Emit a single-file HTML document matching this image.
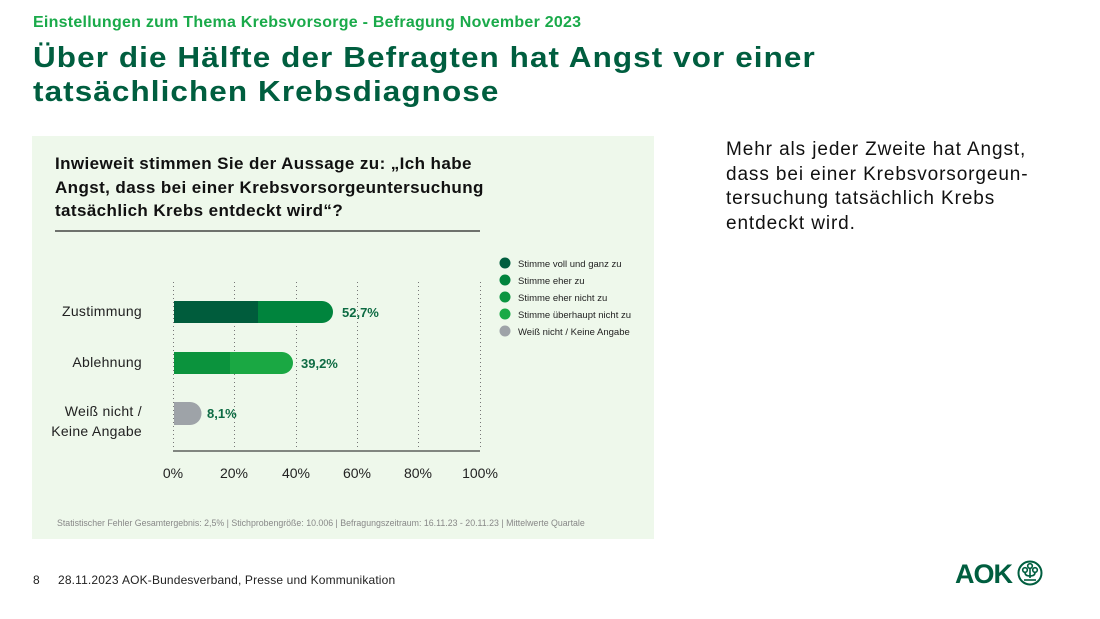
<!DOCTYPE html>
<html>
<head>
<meta charset="utf-8">
<style>
  html,body{margin:0;padding:0;background:#fff;}
  body{width:1100px;height:619px;position:relative;overflow:hidden;font-family:"Liberation Sans",sans-serif;}
  .abs{position:absolute;white-space:nowrap;}
  .sub{left:33px;top:14px;font-size:16px;font-weight:bold;color:#1aaa4a;letter-spacing:0.25px;}
  .title{left:33px;top:41px;font-size:29px;font-weight:bold;color:#005e3f;line-height:34px;letter-spacing:1px;transform:scaleX(1.085);transform-origin:0 0;}
  .panel{left:32px;top:136px;width:622px;height:403px;background:#eef8eb;}
  .q{left:55px;top:152px;font-size:17px;font-weight:bold;color:#111;line-height:23.5px;letter-spacing:0.4px;}
  .right{left:726px;top:138px;font-size:19px;color:#111;line-height:24.5px;letter-spacing:0.9px;}
  .foot{top:573px;font-size:12px;color:#222;letter-spacing:0.15px;}
</style>
</head>
<body>
<div class="abs sub">Einstellungen zum Thema Krebsvorsorge - Befragung November 2023</div>
<div class="abs title">Über die Hälfte der Befragten hat Angst vor einer<br>tatsächlichen Krebsdiagnose</div>

<div class="abs panel"></div>
<div class="abs q">Inwieweit stimmen Sie der Aussage zu: „Ich habe<br>Angst, dass bei einer Krebsvorsorgeuntersuchung<br>tatsächlich Krebs entdeckt wird“?</div>

<svg class="abs" style="left:0;top:0" width="1100" height="619" xmlns="http://www.w3.org/2000/svg">
  <line x1="55" y1="231" x2="480" y2="231" stroke="#222" stroke-width="1.2"/>
  <g stroke="#777" stroke-width="1" stroke-dasharray="1 3">
    <line x1="173.5" y1="282" x2="173.5" y2="450"/>
    <line x1="234.5" y1="282" x2="234.5" y2="450"/>
    <line x1="296.5" y1="282" x2="296.5" y2="450"/>
    <line x1="357.5" y1="282" x2="357.5" y2="450"/>
    <line x1="418.5" y1="282" x2="418.5" y2="450"/>
    <line x1="480.5" y1="282" x2="480.5" y2="450"/>
  </g>
  <line x1="173" y1="451" x2="480" y2="451" stroke="#222" stroke-width="1.2" opacity="0.85"/>
  <!-- bars -->
  <path d="M174 301 H322 A11 11 0 0 1 322 323 H174 Z" fill="#00843d"/>
  <rect x="174" y="301" width="84" height="22" fill="#005c3c"/>
  <path d="M174 352 H282 A11 11 0 0 1 282 374 H174 Z" fill="#1aa843"/>
  <rect x="174" y="352" width="56" height="22" fill="#0b933d"/>
  <path d="M174 402 H190 A11.5 11.5 0 0 1 190 425 H174 Z" fill="#9ea3a8"/>
  <g font-family="Liberation Sans, sans-serif" font-size="13" font-weight="bold" fill="#0d6b43">
    <text x="342" y="317">52,7%</text>
    <text x="301" y="368">39,2%</text>
    <text x="207" y="418">8,1%</text>
  </g>
  <g font-family="Liberation Sans, sans-serif" font-size="14" fill="#222" text-anchor="end" letter-spacing="0.3">
    <text x="142" y="316">Zustimmung</text>
    <text x="142" y="367">Ablehnung</text>
    <text x="142" y="416">Weiß nicht /</text>
    <text x="142" y="436">Keine Angabe</text>
  </g>
  <g font-family="Liberation Sans, sans-serif" font-size="14" fill="#222" text-anchor="middle">
    <text x="173" y="478">0%</text>
    <text x="234" y="478">20%</text>
    <text x="296" y="478">40%</text>
    <text x="357" y="478">60%</text>
    <text x="418" y="478">80%</text>
    <text x="480" y="478">100%</text>
  </g>
  <!-- legend -->
  <circle cx="505" cy="263" r="5.5" fill="#005e3f"/>
  <circle cx="505" cy="280" r="5.5" fill="#00843d"/>
  <circle cx="505" cy="297" r="5.5" fill="#0b9541"/>
  <circle cx="505" cy="314" r="5.5" fill="#1aaa46"/>
  <circle cx="505" cy="331" r="5.5" fill="#9ea3a8"/>
  <g font-family="Liberation Sans, sans-serif" font-size="9.5" fill="#222">
    <text x="518" y="267">Stimme voll und ganz zu</text>
    <text x="518" y="284">Stimme eher zu</text>
    <text x="518" y="301">Stimme eher nicht zu</text>
    <text x="518" y="318">Stimme überhaupt nicht zu</text>
    <text x="518" y="335">Weiß nicht / Keine Angabe</text>
  </g>
  <text x="57" y="526" font-family="Liberation Sans, sans-serif" font-size="8.8" fill="#888">Statistischer Fehler Gesamtergebnis: 2,5% | Stichprobengröße: 10.006 | Befragungszeitraum: 16.11.23 - 20.11.23 | Mittelwerte Quartale</text>
  <!-- AOK logo -->
  <text x="955" y="583" font-family="Liberation Sans, sans-serif" font-size="27" font-weight="bold" fill="#005e3f" letter-spacing="-1">AOK</text>
  <circle cx="1030" cy="573" r="11.5" fill="none" stroke="#005e3f" stroke-width="2"/>
  <g fill="none" stroke="#005e3f" stroke-width="1.6">
    <circle cx="1030" cy="566" r="2.3"/>
    <circle cx="1025" cy="570" r="2.3"/>
    <circle cx="1035" cy="570" r="2.3"/>
    <path d="M1030 568.5 V578 M1025 572.5 Q1025 576 1030 576 Q1035 576 1035 572.5"/>
    <line x1="1024" y1="580" x2="1036" y2="580"/>
  </g>
</svg>

<div class="abs right">Mehr als jeder Zweite hat Angst,<br>dass bei einer Krebsvorsorgeun-<br>tersuchung tatsächlich Krebs<br>entdeckt wird.</div>

<div class="abs foot" style="left:33px;">8</div>
<div class="abs foot" style="left:58px;">28.11.2023</div>
<div class="abs foot" style="left:122px;">AOK-Bundesverband, Presse und Kommunikation</div>
</body>
</html>
